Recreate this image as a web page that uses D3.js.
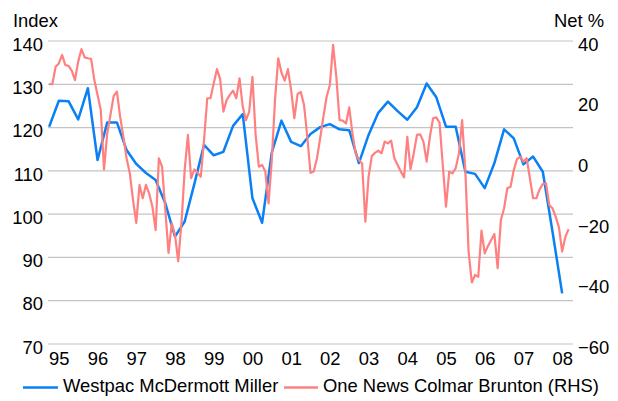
<!DOCTYPE html>
<html>
<head>
<meta charset="utf-8">
<script src="https://cdn.jsdelivr.net/npm/d3@7"></script>
<style>
  body { margin: 0; background: #fff; }
  svg text { font-family: "Liberation Sans", Arial, sans-serif; font-size: 18.4px; fill: #000; }
</style>
</head>
<body>
<svg id="chart" width="618" height="401"></svg>
<script>
// Westpac McDermott Miller index, quarterly, first quarter = Oct 1994
const westpacStart = [1994, 9];
const westpac = [
  120.2, 126.2, 126.1, 121.9, 129.1, 112.5, 121.2, 121.2, 114.8, 111.6,
  109.5, 107.9, 102.5, 94.8, 98.3, 107.0, 116.0, 113.6, 114.4, 120.4,
  123.1, 103.7, 98.0, 114.2, 121.6, 116.7, 115.7, 118.5, 120.1, 120.8,
  119.6, 119.4, 111.8, 118.3, 123.4, 126.0, 123.8, 121.8, 124.7, 130.2,
  127.0, 120.2, 120.2, 109.8, 109.3, 106.0, 111.8, 119.6, 117.5, 111.5,
  113.3, 109.8, 96.0, 81.7
];

// One News Colmar Brunton, net %, monthly, first month = Oct 1994
const colmarStart = [1994, 9];
const colmar = [
  25.8, 25.8, 31.5, 32.6, 35.4, 32.1, 31.8, 30.2, 27.1, 33.2,
  37.3, 34.6, 34.3, 34.1, 27.1, 22.2, 17.2, -2.4, 9.5, 15.6,
  21.9, 23.3, 15.0, 8.4, 1.3, -3.7, -12.5, -20.0, -7.5, -11.9,
  -7.5, -10.3, -14.7, -22.4, 1.3, -1.5, -15.8, -29.9, -20.2, -24.0,
  -32.7, -20.2, -2.6, 9.0, -5.3, -2.4, -3.5, -4.8, 7.3, 21.1,
  21.1, 26.0, 30.7, 27.4, 16.7, 20.5, 22.2, 23.6, 21.1, 27.7,
  18.3, 13.9, 16.7, 28.2, 9.0, -1.5, -0.9, -3.1, -13.6, 0.7,
  20.5, 34.3, 29.6, 26.9, 30.7, 23.8, 14.5, 22.5, 23.2, 18.9,
  8.4, -3.5, -3.1, 1.3, 7.9, 15.0, 21.6, 25.5, 38.7, 28.2,
  13.9, 13.7, 12.8, 18.1, 9.5, 2.9, 0.7, -0.4, -19.6, -4.8,
  2.0, 3.1, 3.8, 2.9, 6.8, 6.2, 7.1, 1.3, -0.9, -3.1,
  -5.0, 8.4, -2.3, 2.9, 9.0, 9.2, 6.8, 0.2, 8.4, 14.5,
  14.8, 13.0, -1.0, -14.7, -3.1, -3.7, -2.0, 2.9, 13.9, -3.0,
  -29.5, -39.7, -37.2, -37.8, -22.6, -30.1, -27.7, -25.7, -23.7, -35.0,
  -19.1, -15.2, -8.6, -8.1, -2.6, 1.0, 1.8, 0.2, 1.3, -5.3,
  -11.9, -11.9, -9.0, -7.2, -7.0, -14.1, -15.2, -18.0, -21.5, -29.5,
  -24.6, -22.1
];

const yearTicks = [1995, 1996, 1997, 1998, 1999, 2000, 2001, 2002, 2003, 2004, 2005, 2006, 2007, 2008];
const leftTicks = [70, 80, 90, 100, 110, 120, 130, 140];
const rightTicks = [-60, -40, -20, 0, 20, 40];
const seriesNames = ['Westpac McDermott Miller', 'One News Colmar Brunton (RHS)'];

const blue = '#0a80f5';
const red = '#ff8080';

const margin = { top: 41, right: 45, bottom: 57, left: 48 },
  width = 618 - margin.left - margin.right,
  height = 401 - margin.top - margin.bottom;

const toYear = d => d.getFullYear() + d.getMonth() / 12;

const x = d3.scaleLinear()
  .domain([1994.72, 2008.28])
  .range([0, width]);
const yL = d3.scaleLinear().domain([70, 140]).range([height, 0]);
const yR = d3.scaleLinear().domain([-60, 40]).range([height, 0]);

const westpacData = westpac.map((v, i) => ({
  date: d3.timeMonth.offset(new Date(westpacStart[0], westpacStart[1], 1), i * 3), value: v }));
const colmarData = colmar.map((v, i) => ({
  date: d3.timeMonth.offset(new Date(colmarStart[0], colmarStart[1], 1), i), value: v }));

const svg = d3.select('#chart');
const g = svg.append('g')
  .attr('transform', 'translate(' + margin.left + ',' + margin.top + ')');

// gridlines
g.append('g')
  .selectAll('line')
  .data(leftTicks)
  .enter().append('line')
  .attr('x1', 0).attr('x2', width)
  .attr('y1', d => yL(d)).attr('y2', d => yL(d))
  .attr('stroke', '#c4c4c4')
  .attr('stroke-width', 1.2);

// Y axes
const axL = g.append('g')
  .call(d3.axisLeft(yL).tickValues(leftTicks).tickSize(0).tickPadding(5));
const axR = g.append('g')
  .attr('transform', 'translate(' + width + ',0)')
  .call(d3.axisRight(yR).tickValues(rightTicks).tickSize(0).tickPadding(5));
const axX = g.append('g')
  .attr('transform', 'translate(0,' + height + ')')
  .call(d3.axisBottom(x).tickValues(yearTicks).tickSize(0).tickPadding(8)
    .tickFormat(d => String(d).slice(2)));

[axL, axR, axX].forEach(a => {
  a.select('.domain').remove();
  a.selectAll('text').attr('font-family', null).attr('font-size', null);
});
axL.selectAll('text').attr('dy', '0.5em');
axR.selectAll('text').attr('dy', '0.5em');

// axis titles
g.append('text').attr('x', 13 - margin.left).attr('y', 27 - margin.top).text('Index');
g.append('text').attr('x', 604 - margin.left).attr('y', 27 - margin.top)
  .attr('text-anchor', 'end').text('Net %');

// lines
const lineL = d3.line().x(d => x(toYear(d.date))).y(d => yL(d.value));
const lineR = d3.line().x(d => x(toYear(d.date))).y(d => yR(d.value));

g.append('path')
  .datum(westpacData)
  .attr('fill', 'none')
  .attr('stroke', blue)
  .attr('stroke-width', 2.5)
  .attr('stroke-linejoin', 'round')
  .attr('d', lineL);

g.append('path')
  .datum(colmarData)
  .attr('fill', 'none')
  .attr('stroke', red)
  .attr('stroke-width', 2.2)
  .attr('stroke-linejoin', 'round')
  .attr('d', lineR);

// legend
const legend = svg.append('g');
const legendItems = [
  { name: seriesNames[0], color: blue, x1: 23, x2: 58, tx: 63 },
  { name: seriesNames[1], color: red, x1: 284, x2: 318, tx: 323 }
];
legendItems.forEach(it => {
  legend.append('line')
    .attr('x1', it.x1).attr('x2', it.x2)
    .attr('y1', 387.5).attr('y2', 387.5)
    .attr('stroke', it.color)
    .attr('stroke-width', 2.5);
  legend.append('text').attr('x', it.tx).attr('y', 392).text(it.name);
});
</script>
</body>
</html>
